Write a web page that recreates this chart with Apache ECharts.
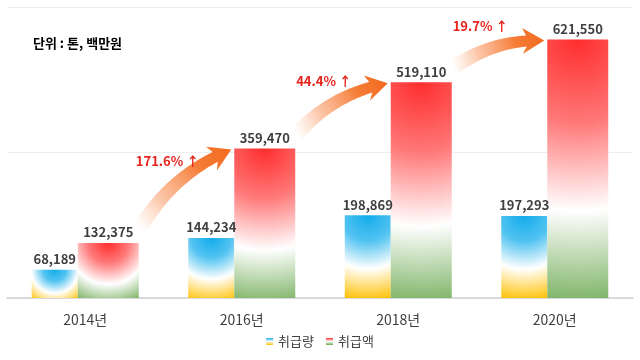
<!DOCTYPE html>
<html><head><meta charset="utf-8">
<script src="https://cdn.jsdelivr.net/npm/echarts@6/dist/echarts.min.js"></script>
<style>html,body{margin:0;padding:0;background:#fff}#c{width:640px;height:360px}</style>
</head><body><div id="c"></div>
<script>
const categories = ['2014년', '2016년', '2018년', '2020년'];
const volume = [68189, 144234, 198869, 197293];      // 취급량
const amount = [132375, 359470, 519110, 621550];     // 취급액
const growthLabels = ['171.6% ↑', '44.4% ↑', '19.7% ↑'];
const seriesNames = ['취급량', '취급액'];
const unitText = '단위 : 톤, 백만원';
const yMin = 0, yMax = 700000, yInterval = 350000;

const FONT = '"Noto Sans CJK KR", "Noto Sans", sans-serif';
const GRID = { left: 7, right: 7, top: 7, bottom: 62 };
const CH = 360;
const plotH = CH - GRID.top - GRID.bottom;
const BLUE_W = 46, RED_W = 61;

function radial(value, width, ringA, ringB, stops) {
  const h = Math.max(1, value / yMax * plotH);
  const ring = ringA * h + ringB;
  const R = ring / 0.62;
  return { type: 'radial', x: 0.5, y: 0, r: R / Math.min(width, h), colorStops: stops };
}
const blueStops = [
  { offset: 0, color: '#12abea' }, { offset: 0.3, color: '#52c3f1' },
  { offset: 0.62, color: '#ffffff' }, { offset: 1, color: '#ffc000' }];
const redStops = [
  { offset: 0, color: '#ff2d2d' }, { offset: 0.3, color: '#ff7878' },
  { offset: 0.62, color: '#ffffff' }, { offset: 1, color: '#6aa84f' }];

function legendGrad(top, bottom) {
  return { type: 'linear', x: 0, y: 0, x2: 0, y2: 1, colorStops: [
    { offset: 0, color: top }, { offset: 0.5, color: '#ffffff' }, { offset: 1, color: bottom }] };
}

function renderArrow(params, api) {
  const i = params.dataIndex;
  const half = (BLUE_W + RED_W) / 2;
  const p0 = api.coord([api.value(0), api.value(1)]);
  const p1 = api.coord([api.value(2), api.value(3)]);
  const T = [p0[0] + half + 1, p0[1] - 14];
  const H = [p1[0] - half + BLUE_W - 3, p1[1] + 1];
  const dx = H[0] - T[0], dy = H[1] - T[1];
  const L = Math.hypot(dx, dy);
  const d = [dx / L, dy / L];
  const n = [d[1], -d[0]];
  const M = [(T[0] + H[0]) / 2, (T[1] + H[1]) / 2];
  const C = [M[0] + n[0] * 0.17 * L, M[1] + n[1] * 0.17 * L];
  const headLen = 21, headHalf = 13;
  const N = 50;
  const pts = [];
  for (let k = 0; k <= N; k++) {
    const t = k / N;
    const a = (1 - t) * (1 - t), b = 2 * (1 - t) * t, c = t * t;
    const x = a * T[0] + b * C[0] + c * H[0];
    const y = a * T[1] + b * C[1] + c * H[1];
    const tx = 2 * (1 - t) * (C[0] - T[0]) + 2 * t * (H[0] - C[0]);
    const ty = 2 * (1 - t) * (C[1] - T[1]) + 2 * t * (H[1] - C[1]);
    const tl = Math.hypot(tx, ty);
    pts.push({ x, y, nx: -ty / tl, ny: tx / tl, t });
  }
  let end = 0;
  for (let k = 0; k <= N; k++) {
    if (Math.hypot(H[0] - pts[k].x, H[1] - pts[k].y) >= headLen - 4) end = k;
  }
  const left = [], right = [];
  for (let k = 0; k <= end; k++) {
    const p = pts[k];
    const w = 7.5 - 2 * (k / end);
    left.push([p.x + p.nx * w, p.y + p.ny * w]);
    right.push([p.x - p.nx * w, p.y - p.ny * w]);
  }
  const B = pts[end];
  const ul = Math.hypot(H[0] - B.x, H[1] - B.y);
  const u = [(H[0] - B.x) / ul, (H[1] - B.y) / ul];
  const nn = [-u[1], u[0]];
  const back = [B.x - u[0] * 4, B.y - u[1] * 4];
  const poly = left.concat([
    [back[0] + nn[0] * headHalf, back[1] + nn[1] * headHalf],
    H,
    [back[0] - nn[0] * headHalf, back[1] - nn[1] * headHalf]
  ]).concat(right.reverse());
  return {
    type: 'group',
    children: [{
      type: 'polygon',
      shape: { points: poly },
      style: {
        fill: { type: 'linear', global: true, x: T[0], y: T[1], x2: H[0], y2: H[1], colorStops: [
          { offset: 0, color: 'rgba(250,165,115,0)' },
          { offset: 0.3, color: 'rgba(248,140,80,0.5)' },
          { offset: 0.7, color: 'rgba(245,118,45,0.95)' },
          { offset: 1, color: '#f26b1f' }] }
      }
    }, {
      type: 'text',
      x: M[0] - 18, y: M[1] - 28,
      style: {
        text: growthLabels[i], fill: '#e8231b', fontSize: 13, fontWeight: 'bold',
        fontFamily: FONT, align: 'center', verticalAlign: 'middle'
      }
    }]
  };
}

const arrowData = growthLabels.map((_, i) => [i, amount[i], i + 1, amount[i + 1]]);

const chart = echarts.init(document.getElementById('c'), null, { renderer: 'canvas' });
chart.setOption({
  animation: false,
  backgroundColor: '#ffffff',
  textStyle: { fontFamily: FONT },
  title: {
    text: unitText, left: 28, top: 32,
    textStyle: { fontSize: 13, fontWeight: 'bold', color: '#000000', fontFamily: FONT }
  },
  legend: {
    bottom: 7, left: 'center', icon: 'rect', itemWidth: 7, itemHeight: 7, itemGap: 12,
    textStyle: { fontSize: 13, color: '#404040', fontFamily: FONT },
    data: [
      { name: seriesNames[0], itemStyle: { color: legendGrad('#12abea', '#ffc000') } },
      { name: seriesNames[1], itemStyle: { color: legendGrad('#ff2d2d', '#6aa84f') } }
    ]
  },
  grid: { left: GRID.left, right: GRID.right, top: GRID.top, bottom: GRID.bottom, containLabel: false },
  xAxis: {
    type: 'category', data: categories, boundaryGap: true,
    axisTick: { show: false },
    axisLine: { lineStyle: { color: '#d9d9d9', width: 2 } },
    axisLabel: { margin: 15, fontSize: 14, color: '#404040', fontFamily: FONT }
  },
  yAxis: {
    type: 'value', min: yMin, max: yMax, interval: yInterval,
    axisLabel: { show: false }, axisLine: { show: false }, axisTick: { show: false },
    splitLine: { lineStyle: { color: '#ededed', width: 1 } }
  },
  series: [{
    name: seriesNames[0], type: 'bar', data: volume, barWidth: BLUE_W, barGap: '0%', z: 2,
    itemStyle: { color: p => radial(p.value, BLUE_W, 0.55, 8, blueStops) },
    label: { show: true, position: 'top', distance: 4, fontSize: 13, fontWeight: 'bold',
      color: '#3f3f3f', fontFamily: FONT, formatter: p => p.value.toLocaleString('en-US') }
  }, {
    name: seriesNames[1], type: 'bar', data: amount, barWidth: RED_W, barGap: '0%', z: 2,
    itemStyle: { color: p => radial(p.value, RED_W, 0.64, 6, redStops) },
    label: { show: true, position: 'top', distance: 4, fontSize: 13, fontWeight: 'bold',
      color: '#3f3f3f', fontFamily: FONT, formatter: p => p.value.toLocaleString('en-US') }
  }, {
    type: 'custom', data: arrowData, renderItem: renderArrow, z: 1, silent: true,
    encode: { x: 0, y: 1 }, clip: false
  }]
});
</script>
</body></html>
